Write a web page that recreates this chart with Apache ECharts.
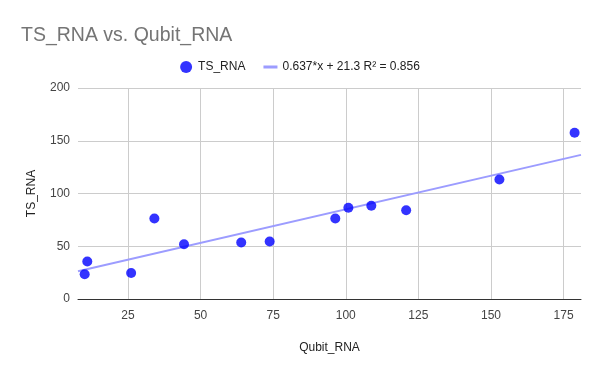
<!DOCTYPE html>
<html><head><meta charset="utf-8">
<script src="https://cdn.jsdelivr.net/npm/echarts@6/dist/echarts.min.js"></script>
<style>html,body{margin:0;padding:0;background:#fff}#c{width:600px;height:371px}</style>
</head><body><div id="c"></div>
<script>
const qubitRNA = [10.1, 11.0, 26.1, 34.1, 44.3, 64.0, 73.8, 96.4, 100.9, 108.8, 120.8, 152.9, 178.8];
const tsRNA    = [23.4, 35.5, 24.7, 76.3, 51.9, 53.5, 54.5, 76.3, 86.5, 88.4, 84.1, 113.3, 157.6];
const xTicks = [25, 50, 75, 100, 125, 150, 175];
const yTicks = [0, 50, 100, 150, 200];
const slope = 0.637, intercept = 21.3;
const xMin = 7.8, xMax = 181;
const titleText = 'TS_RNA vs. Qubit_RNA';
const trendName = '0.637*x + 21.3 R² = 0.856';

const font = 'Liberation Sans, Arial, sans-serif';
const chart = echarts.init(document.getElementById('c'), null, {renderer: 'canvas'});
chart.setOption({
  animation: false,
  backgroundColor: '#fff',
  title: {text: titleText, left: 16, top: 21,
    textStyle: {fontFamily: font, fontSize: 19.5, fontWeight: 'normal', color: '#757575'}},
  legend: {top: 56, left: 'center', itemGap: 18, itemWidth: 14, itemHeight: 12,
    textStyle: {fontFamily: font, fontSize: 12, color: '#222'},
    data: [{name: 'TS_RNA', icon: 'circle'},
           {name: trendName, icon: 'path://M0,0L0.01,0L0,0.01Z M0,12L0.01,12L0,11.99Z M0,4.5H14V7.5H0Z', itemStyle: {color: '#9c9cff'}}]},
  grid: {left: 78, right: 19, top: 88, bottom: 72},
  xAxis: {type: 'value', min: xMin, max: xMax,
    name: 'Qubit_RNA', nameLocation: 'middle', nameGap: 43,
    nameTextStyle: {fontFamily: font, fontSize: 12, color: '#222'},
    axisLine: {show: true, lineStyle: {color: '#333', width: 1}},
    axisTick: {show: false, customValues: xTicks},
    axisLabel: {customValues: xTicks, fontFamily: font, fontSize: 12, color: '#444', margin: 11},
    splitLine: {show: true, lineStyle: {color: '#cccccc', width: 1}}},
  yAxis: {type: 'value', min: 0, max: 200, interval: 50,
    name: 'TS_RNA', nameLocation: 'middle', nameGap: 40,
    nameTextStyle: {fontFamily: font, fontSize: 12, color: '#222'},
    axisLine: {show: false}, axisTick: {show: false},
    axisLabel: {fontFamily: font, fontSize: 12, color: '#444', margin: 8},
    splitLine: {show: true, lineStyle: {color: '#cccccc', width: 1}}},
  series: [
    {name: 'TS_RNA', type: 'scatter', symbol: 'circle', symbolSize: 10,
     itemStyle: {color: '#0000ff'}, z: 3,
     data: qubitRNA.map((x, i) => [x, tsRNA[i]])},
    {name: trendName, type: 'line', symbol: 'none', z: 2,
     lineStyle: {color: '#9c9cff', width: 2}, itemStyle: {color: '#9c9cff'},
     data: [[xMin, slope * xMin + intercept], [xMax, slope * xMax + intercept]]}
  ]
});
</script></body></html>
